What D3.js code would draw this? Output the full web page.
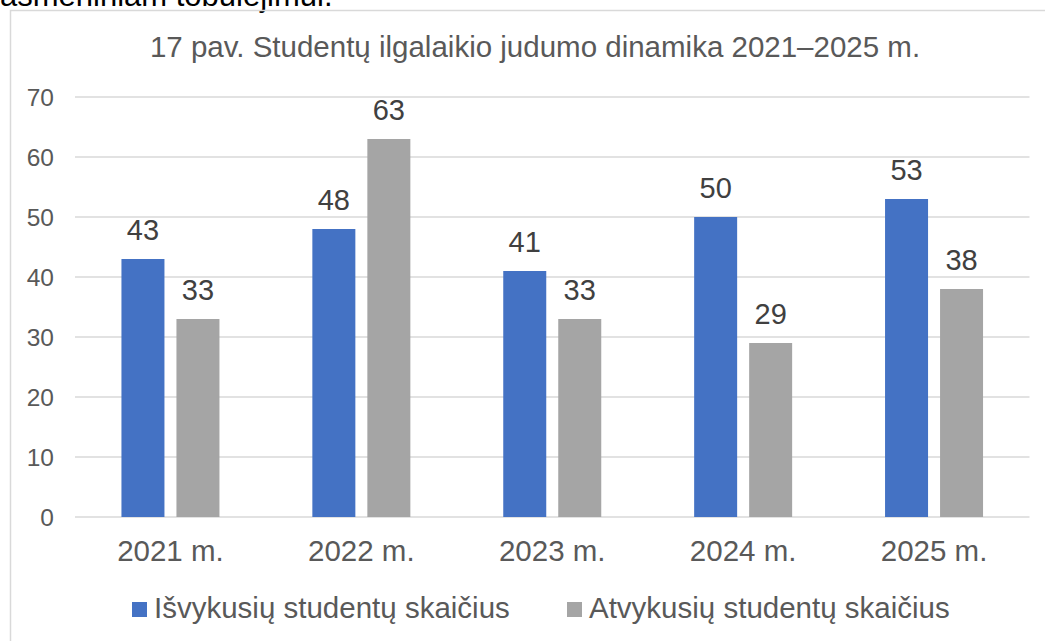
<!DOCTYPE html>
<html>
<head>
<meta charset="utf-8">
<script src="https://cdn.jsdelivr.net/npm/d3@7"></script>
<style>
  body { margin: 0; background: #fff; }
  text { font-family: "Liberation Sans", Arial, sans-serif; }
</style>
</head>
<body>
<div class="chart"></div>
<script>
var svgWidth = 1045;
var svgHeight = 641;

// chart data
var years = ["2021 m.", "2022 m.", "2023 m.", "2024 m.", "2025 m."];
var seriesNames = ["Išvykusių studentų skaičius", "Atvykusių studentų skaičius"];
var outgoing = [43, 48, 41, 50, 53];
var incoming = [33, 63, 33, 29, 38];
var yTicks = [0, 10, 20, 30, 40, 50, 60, 70];
var colors = ["#4472c4", "#a5a5a5"];

var margin = { top: 97, right: 15.5, bottom: 124, left: 75 };
var width = svgWidth - margin.left - margin.right;
var height = svgHeight - margin.top - margin.bottom;

var svg = d3.select(".chart")
  .append("svg")
  .attr("width", svgWidth)
  .attr("height", svgHeight);

// text cut off above the chart (as in the source page)
svg.append("text")
  .attr("x", 0)
  .attr("y", 6)
  .attr("font-size", "31px")
  .attr("fill", "#000")
  .text("asmeniniam tobulėjimui.");

// chart frame
svg.append("rect")
  .attr("x", 10.5)
  .attr("y", 10.5)
  .attr("width", 1060)
  .attr("height", 660)
  .attr("fill", "none")
  .attr("stroke", "#d9d9d9")
  .attr("stroke-width", 1.5);

svg.append("text")
  .attr("x", 535)
  .attr("y", 57)
  .attr("text-anchor", "middle")
  .attr("font-size", "29.5px")
  .attr("fill", "#595959")
  .text("17 pav. Studentų ilgalaikio judumo dinamika 2021–2025 m.");

var chart = svg.append("g")
  .attr("transform", "translate(" + margin.left + "," + margin.top + ")");

var yScale = d3.scaleLinear().domain([0, 70]).range([height, 0]);
var x0 = d3.scaleBand().domain(years).range([0, width]).padding(0);
var x1 = d3.scaleBand().domain(seriesNames).range([0, 98]).paddingInner(12 / 55);
var groupOffset = (x0.bandwidth() - 98) / 2;

// gridlines
chart.selectAll(".grid")
  .data(yTicks)
  .enter().append("line")
  .attr("x1", 0)
  .attr("x2", width)
  .attr("y1", function(d) { return yScale(d); })
  .attr("y2", function(d) { return yScale(d); })
  .attr("stroke", "#d9d9d9")
  .attr("stroke-width", 1.5);

// y tick labels
chart.selectAll(".ytick")
  .data(yTicks)
  .enter().append("text")
  .attr("x", -21)
  .attr("y", function(d) { return yScale(d); })
  .attr("dy", "0.35em")
  .attr("text-anchor", "end")
  .attr("font-size", "24.5px")
  .attr("fill", "#595959")
  .text(function(d) { return d; });

var rows = years.map(function(year, i) {
  return { year: year, values: [outgoing[i], incoming[i]] };
});

var groups = chart.selectAll(".group")
  .data(rows)
  .enter().append("g")
  .attr("transform", function(d) { return "translate(" + (x0(d.year) + groupOffset) + ",0)"; });

groups.selectAll("rect")
  .data(function(d) { return d.values.map(function(v, j) { return { name: seriesNames[j], value: v, idx: j }; }); })
  .enter().append("rect")
  .attr("x", function(d) { return x1(d.name); })
  .attr("y", function(d) { return yScale(d.value); })
  .attr("width", x1.bandwidth())
  .attr("height", function(d) { return height - yScale(d.value); })
  .attr("fill", function(d) { return colors[d.idx]; });

groups.selectAll(".label")
  .data(function(d) { return d.values.map(function(v, j) { return { name: seriesNames[j], value: v }; }); })
  .enter().append("text")
  .attr("x", function(d) { return x1(d.name) + x1.bandwidth() / 2; })
  .attr("y", function(d) { return yScale(d.value) - 19; })
  .attr("text-anchor", "middle")
  .attr("font-size", "29px")
  .attr("fill", "#404040")
  .text(function(d) { return d.value; });

// x labels
chart.selectAll(".xlabel")
  .data(years)
  .enter().append("text")
  .attr("x", function(d) { return x0(d) + x0.bandwidth() / 2; })
  .attr("y", height + 44)
  .attr("text-anchor", "middle")
  .attr("font-size", "29.5px")
  .attr("fill", "#595959")
  .text(function(d) { return d; });

// legend
var legendX = [132, 567];
var legend = svg.selectAll(".legend")
  .data(seriesNames)
  .enter().append("g")
  .attr("transform", function(d, i) { return "translate(" + legendX[i] + ",0)"; });

legend.append("rect")
  .attr("x", 0)
  .attr("y", 602)
  .attr("width", 15)
  .attr("height", 15)
  .attr("fill", function(d, i) { return colors[i]; });

legend.append("text")
  .attr("x", 22)
  .attr("y", 618)
  .attr("font-size", "29.5px")
  .attr("fill", "#595959")
  .text(function(d) { return d; });
</script>
</body>
</html>
